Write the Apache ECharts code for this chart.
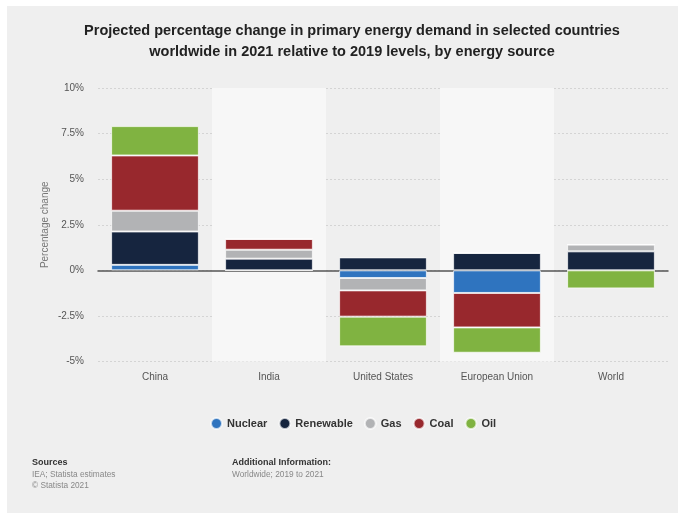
<!DOCTYPE html>
<html>
<head>
<meta charset="utf-8">
<script src="https://cdn.jsdelivr.net/npm/echarts@6/dist/echarts.min.js"></script>
<style>
html,body{margin:0;padding:0;background:#fff;}
#panel{position:absolute;left:7px;top:6px;width:671px;height:507px;background:#efefef;}
#chart{position:absolute;left:0;top:0;width:685px;height:515px;}
</style>
</head>
<body>
<div id="panel"></div>
<div id="chart"></div>
<script>
const categories = ['China', 'India', 'United States', 'European Union', 'World'];
const nuclear   = [0.30, 0, -0.42, -1.24, 0];
const renewable = [1.83, 0.64, 0.71, 0.95, 1.04];
const gas       = [1.14, 0.49, -0.68, 0, 0.37];
const coal      = [3.03, 0.59, -1.44, -1.89, 0];
const oil       = [1.61, 0, -1.63, -1.39, -0.99];
const seriesNames = ['Nuclear', 'Renewable', 'Gas', 'Coal', 'Oil'];
const colors = ['#2f74bf', '#16253f', '#b2b3b5', '#98282d', '#80b341'];
const yTicks = { min: -5, max: 10, interval: 2.5 };

const font = '"Liberation Sans", Arial, sans-serif';
const chart = echarts.init(document.getElementById('chart'), null, { renderer: 'canvas' });
const dataSets = [nuclear, renewable, gas, coal, oil];

const option = {
  backgroundColor: 'transparent',
  animation: false,
  color: colors,
  title: {
    text: 'Projected percentage change in primary energy demand in selected countries\nworldwide in 2021 relative to 2019 levels, by energy source',
    left: 347, top: 15, textAlign: 'center',
    textStyle: { fontFamily: font, fontWeight: 'bold', fontSize: 14.5, color: '#222', lineHeight: 21 }
  },
  legend: {
    data: seriesNames,
    left: 205, top: 412,
    icon: 'circle', itemWidth: 11, itemHeight: 11, itemGap: 11,
    textStyle: { fontFamily: font, fontWeight: 'bold', fontSize: 11, color: '#333' }
  },
  grid: { left: 98, right: 17, top: 88, bottom: 153.5, containLabel: false },
  xAxis: {
    type: 'category',
    data: categories,
    axisLine: { show: true, onZero: true, lineStyle: { color: '#555', width: 1.5 } },
    axisTick: { show: false },
    axisLabel: { fontFamily: font, fontSize: 10, color: '#555', margin: 11 },
    splitArea: { show: true, areaStyle: { color: ['rgba(0,0,0,0)', '#f7f7f7'] } }
  },
  yAxis: {
    type: 'value',
    min: yTicks.min, max: yTicks.max, interval: yTicks.interval,
    name: 'Percentage change',
    nameLocation: 'middle', nameGap: 48, nameRotate: 90,
    nameMoveOverlap: false,
    nameTextStyle: { fontFamily: font, fontSize: 10, color: '#777' },
    axisLine: { show: false },
    axisTick: { show: false },
    axisLabel: { fontFamily: font, fontSize: 10, color: '#555', margin: 14,
      formatter: v => v + '%' },
    splitLine: { show: true, lineStyle: { color: '#d4d4d4', type: [2, 2], width: 1 } }
  },
  series: seriesNames.map((n, i) => ({
    name: n,
    type: 'bar',
    stack: 'total',
    barWidth: '77%',
    data: dataSets[i],
    itemStyle: { color: colors[i], borderColor: 'rgba(255,255,255,0.7)', borderWidth: 1 }
  })),
  graphic: [
    { type: 'text', left: 32, top: 458, style: { text: 'Sources', font: 'bold 9px "Liberation Sans", Arial', fill: '#333' } },
    { type: 'text', left: 32, top: 471, style: { text: 'IEA; Statista estimates', font: '8.3px "Liberation Sans", Arial', fill: '#888' } },
    { type: 'text', left: 32, top: 482, style: { text: '© Statista 2021', font: '8.3px "Liberation Sans", Arial', fill: '#888' } },
    { type: 'text', left: 232, top: 458, style: { text: 'Additional Information:', font: 'bold 9px "Liberation Sans", Arial', fill: '#333' } },
    { type: 'text', left: 232, top: 471, style: { text: 'Worldwide; 2019 to 2021', font: '8.3px "Liberation Sans", Arial', fill: '#888' } }
  ]
};
chart.setOption(option);
</script>
</body>
</html>
